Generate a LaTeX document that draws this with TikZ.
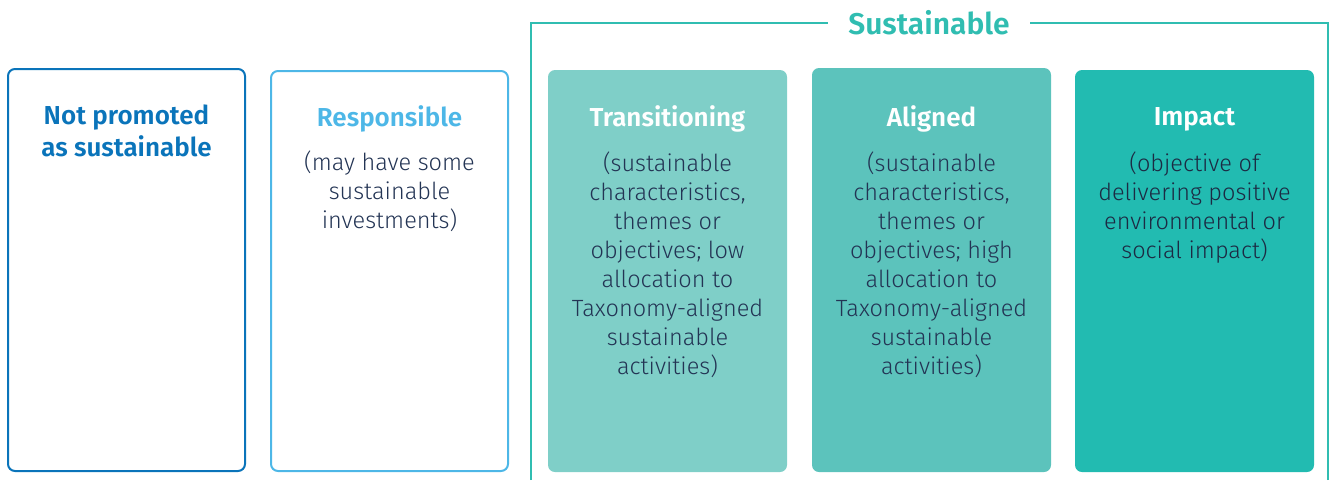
\documentclass[tikz,border=0pt]{standalone}
\usepackage{fontspec}
\setmainfont{Fira Sans}[UprightFont={* Light}, BoldFont={* SemiBold}]
\definecolor{npblue}{HTML}{0A74BA}
\definecolor{rsblue}{HTML}{4DB7E7}
\definecolor{tealA}{HTML}{7FCFC8}
\definecolor{tealB}{HTML}{5CC3BC}
\definecolor{tealC}{HTML}{22BBB1}
\definecolor{frame}{HTML}{30BDB1}
\definecolor{ink}{HTML}{233454}
\tikzset{
  card/.style={rounded corners=7pt, minimum width=237pt, minimum height=402pt, inner sep=0pt},
  head/.style={font=\bfseries\fontsize{26}{32}\selectfont, align=center, anchor=north, inner sep=0pt},
  note/.style={font=\fontsize{23.5}{29}\selectfont, align=center, anchor=north, inner sep=0pt, text=ink},
}
\begin{document}
\begin{tikzpicture}[x=1pt,y=-1pt]
    \useasboundingbox (0,0) rectangle (1330,480);

    % not promoted
    \node[card, draw=npblue, line width=2pt] (np) at (126.5,270) {};
    \node[head, text=npblue] (nphead) at ([yshift=-37pt]np.north) {Not promoted\\as sustainable};

    % responsible
    \node[card, draw=rsblue, line width=2pt, minimum height=400pt] (rs) at (389.5,271) {};
    \node[head, text=rsblue] (rshead) at ([yshift=-35pt]rs.north) {Responsible};
    \node[note] (rsnote) at ([yshift=-81pt]rs.north) {(may have some\\sustainable\\investments)};

    % sustainable bracket
    \node[font=\bfseries\fontsize{30}{32}\selectfont, text=frame, inner sep=0pt] (sust) at (929,23) {Sustainable};
    \coordinate (fl) at (531,480);
    \coordinate (fr) at (1328,480);
    \draw[frame, line width=1.5pt] (fl) |- ([xshift=-20pt]sust.west);
    \draw[frame, line width=1.5pt] (fr) |- ([xshift=20pt]sust.east);

    % transitioning
    \node[card, fill=tealA, minimum width=239pt] (tr) at (667.5,271) {};
    \node[head, text=white] (trhead) at ([yshift=-36pt]tr.north) {Transitioning};
    \node[note] (trnote) at ([yshift=-82pt]tr.north) {(sustainable\\characteristics,\\themes or\\objectives; low\\allocation to\\Taxonomy-aligned\\sustainable\\activities)};

    % aligned
    \node[card, fill=tealB, minimum width=239pt, minimum height=404pt] (al) at (931.5,270) {};
    \node[head, text=white] (alhead) at ([yshift=-38pt]al.north) {Aligned};
    \node[note] (alnote) at ([yshift=-84pt]al.north) {(sustainable\\characteristics,\\themes or\\objectives; high\\allocation to\\Taxonomy-aligned\\sustainable\\activities)};

    % impact
    \node[card, fill=tealC, minimum width=239pt] (im) at (1194.5,271) {};
    \node[head, text=white] (imhead) at ([yshift=-38pt]im.north) {Impact};
    \node[note, text=ink!80!black] (imnote) at ([yshift=-82pt]im.north) {(objective of\\delivering positive\\environmental or\\social impact)};
\end{tikzpicture}
\end{document}
